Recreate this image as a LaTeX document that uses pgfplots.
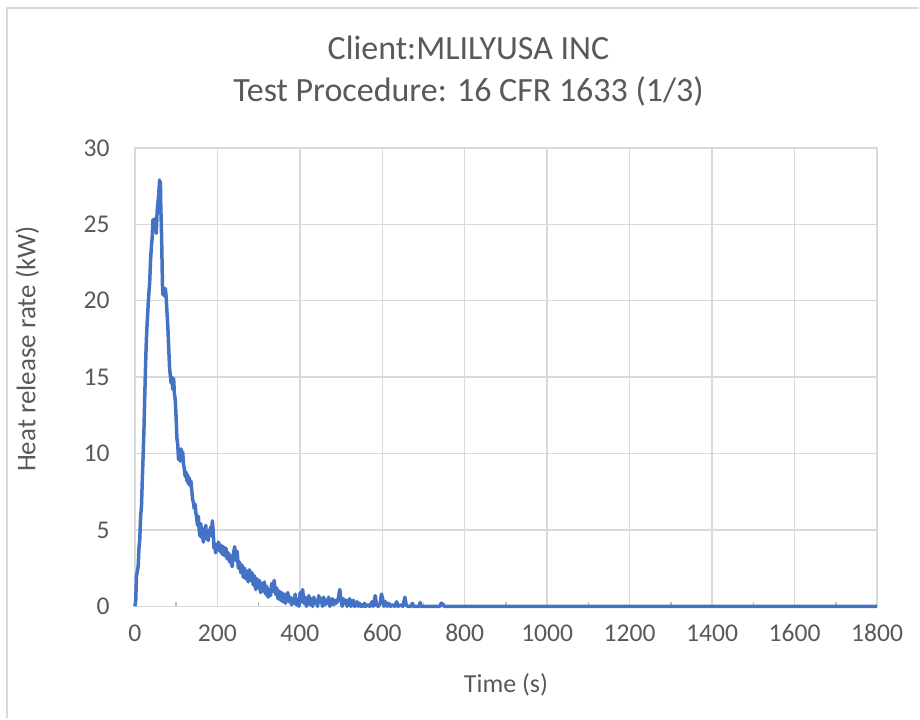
\documentclass[border=0pt]{standalone}
\usepackage{fontspec}
\setmainfont{Carlito}
\usepackage{pgfplots}
\pgfplotsset{compat=1.18}
\definecolor{hrrblue}{HTML}{4472C4}
\definecolor{gridgray}{HTML}{D9D9D9}
\definecolor{axisgray}{HTML}{BFBFBF}
\definecolor{txtgray}{HTML}{595959}

\begin{document}
\begin{tikzpicture}
  % page size and chart frame
  \path (-67.5pt,-56pt) rectangle (392.5pt,303.5pt);
  \draw[gridgray, line width=1pt] (-64pt,-56pt) -- (-64pt,299.5pt) -- (392.5pt,299.5pt);

  \begin{axis}[
    at={(0,0)}, anchor=south west,
    scale only axis,
    width=371.5pt, height=229.5pt,
    xmin=0, xmax=1800, ymin=0, ymax=30,
    xtick={0,200,...,1800},
    ytick={0,5,...,30},
    minor xtick={100,300,...,1700},
    xtick pos=bottom, ytick pos=left,
    major tick length=0pt,
    minor tick length=2pt,
    tick align=inside,
    minor tick style={axisgray, line width=0.75pt},
    grid=major,
    major grid style={gridgray, line width=0.75pt},
    axis line style={gridgray, line width=0.75pt},
    clip=false,
    /pgf/number format/assume math mode=true,
    /pgf/number format/1000 sep={},
    ticklabel style={font=\fontsize{12.8pt}{14pt}\selectfont, text=txtgray},
    xticklabel style={anchor=base, inner sep=0pt, yshift=-17.35pt},
    yticklabel style={anchor=east, inner sep=0pt, xshift=-12.5pt},
    xlabel={Time (s)},
    ylabel={Heat release rate (kW)},
    xlabel style={at={(axis description cs:0.5,-0.1882)}, anchor=base,
      font=\fontsize{13pt}{15pt}\selectfont, text=txtgray, inner sep=0pt},
    ylabel style={at={(axis description cs:-0.1447,0.561)}, anchor=center,
      font=\fontsize{13.5pt}{15pt}\selectfont, text=txtgray, inner sep=0pt},
  ]
    \addplot[hrrblue, line width=1.75pt, line join=round, mark=none] coordinates {
      (0,0) (2,0.3) (4,2.0) (6,2.3) (8,2.6) (10,3.8) (12,4.4) (14,5.9)
      (16,6.5) (18,8.2) (20,9.8) (22,11.5) (24,13.7) (26,15.8) (28,17.5)
      (30,18.6) (32,19.6) (34,20.5) (36,21.2) (38,22.6) (40,23.5) (42,24.1)
      (44,25.3) (46,25.0) (48,24.6) (50,25.4) (52,24.4) (54,25.8) (56,26.4)
      (58,27.0) (60,27.9) (61,26.5) (62,27.8) (63,26.0) (64,25.2) (65,24.0)
      (66,22.5) (67,21.0) (68,20.4) (70,20.6) (72,20.3) (74,20.8) (76,20.2)
      (78,19.2) (80,18.3) (82,17.0) (84,15.7) (86,15.1) (88,14.6) (90,15.0)
      (92,14.2) (94,14.9) (96,13.9) (98,13.5) (100,12.4) (102,11.0) (104,10.6)
      (106,9.6) (108,9.9) (110,9.5) (112,10.3) (114,9.7) (116,10.1) (118,9.3)
      (120,9.0) (122,8.5) (124,8.8) (126,8.2) (128,8.6) (130,8.0) (132,8.4)
      (134,7.9) (136,8.2) (138,7.6) (140,7.0) (142,6.8) (144,6.4) (146,6.7)
      (148,6.1) (150,5.8) (152,5.3) (154,5.9) (156,5.0) (158,4.6) (160,5.4)
      (162,4.5) (164,4.9) (166,4.2) (168,5.1) (170,4.6) (172,5.3) (174,4.4)
      (176,4.8) (178,4.3) (180,5.0) (182,4.7) (184,5.2) (186,4.6) (188,5.6)
      (190,4.9) (192,3.8) (194,4.1) (196,3.5) (198,3.9)
      (200,3.7) (203,4.2) (206,3.6) (209,4.0) (212,3.4) (215,3.9) (218,3.3)
      (221,3.8) (224,3.1) (227,3.5) (230,2.9) (233,3.3) (236,2.6) (239,3.4)
      (242,3.9) (245,3.0) (248,3.6) (251,2.5) (254,2.9) (257,2.2) (260,2.7)
      (263,1.9) (266,2.5) (269,1.8) (272,2.3) (275,1.6) (278,2.4) (281,1.7)
      (284,2.2) (287,1.4) (290,2.0) (293,1.1) (296,1.8) (299,1.2) (302,1.7)
      (305,0.9) (308,1.5) (311,1.0) (314,1.6) (317,0.8) (320,1.3) (323,0.6)
      (326,1.1) (329,0.7) (332,1.5) (335,1.0) (338,1.7) (341,0.8) (344,1.2)
      (347,0.5) (350,1.0) (353,0.4) (356,0.9) (359,0.3) (362,0.8) (365,0.2)
      (368,0.7) (371,0.9) (374,0.3) (377,0.6) (380,0.1) (383,0.5) (386,0.2)
      (389,0.8) (392,0.1) (395,0.4) (398,0.0) (401,0.9) (404,0.3) (407,1.1)
      (410,0.2) (413,0.6) (416,0.0) (419,0.4) (422,0.7) (425,0.1) (428,0.5)
      (431,0.0) (434,0.6) (437,0.2) (440,0.4) (443,0.0) (446,0.7) (449,0.3)
      (452,0.5) (455,0.0) (458,0.6) (461,0.1) (464,0.4) (467,0.2) (470,0.6)
      (473,0.0) (476,0.3) (479,0.5) (482,0.1) (485,0.4) (488,0.2) (491,0.3)
      (494,0.6) (497,1.1) (500,0.4) (503,0.0) (506,0.5) (509,0.2) (512,0.4)
      (515,0.0) (518,0.3) (521,0.5) (524,0.0) (527,0.2) (530,0.4) (533,0.0)
      (536,0.1) (539,0.3) (542,0.0) (545,0.2) (548,0.0) (551,0.1) (554,0.0)
      (557,0.2) (560,0.0) (565,0.1) (570,0.0) (575,0.3) (578,0.0) (583,0.7)
      (586,0.1) (590,0.0) (595,0.2) (598,0.8) (601,0.5) (604,0.0) (608,0.3)
      (612,0.0) (616,0.2) (620,0.0) (625,0.1) (630,0.0) (635,0.3) (638,0.0)
      (645,0.1) (650,0.0) (655,0.6) (658,0.1) (662,0.0) (670,0.0) (673,0.2)
      (676,0.0) (690,0.0) (692,0.25) (694,0.0) (740,0.0) (743,0.2) (747,0.15)
      (750,0.0) (1800,0.0)
    };
  \end{axis}

  % two-line chart title
  \node[anchor=base, text=txtgray, font=\fontsize{17pt}{20pt}\selectfont, inner sep=0pt]
    at (167pt,273.5pt) {Client:MLILYUSA INC};
  \node[anchor=base, text=txtgray, font=\fontsize{17pt}{20pt}\selectfont, inner sep=0pt]
    at (167pt,252.65pt) {Test Procedure: 16 CFR 1633 (1/3)};
\end{tikzpicture}
\end{document}
